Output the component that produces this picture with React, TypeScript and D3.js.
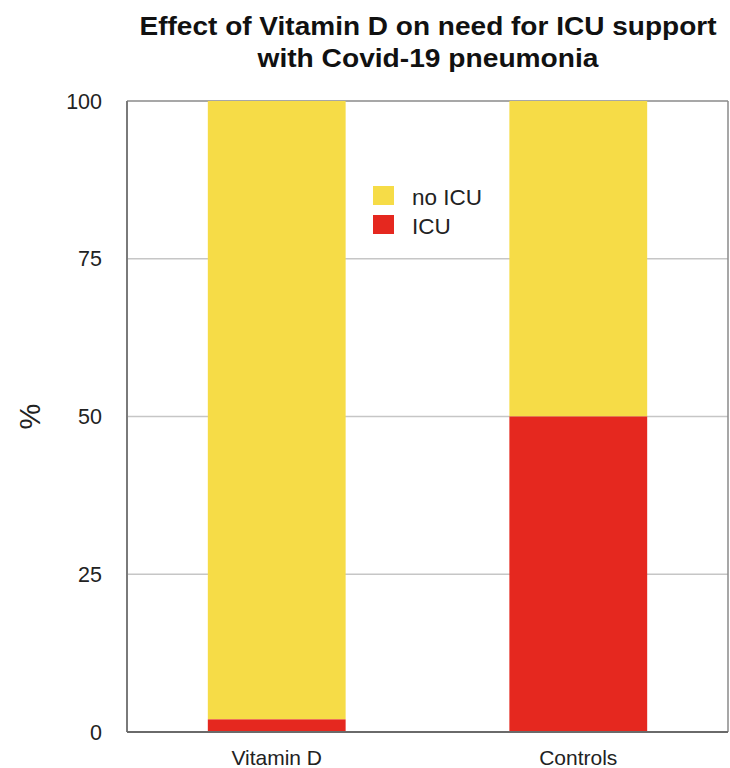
import React from "react";
import * as d3 from "d3";

const categories = ["Vitamin D", "Controls"];
const icuValues = [2, 50];
const noIcuValues = [98, 50];
const yTicks = [0, 25, 50, 75, 100];
const seriesNames = ["no ICU", "ICU"];
const seriesColors = ["#F6DC47", "#E5281F"];
const titleLines = ["Effect of Vitamin D on need for ICU support", "with Covid-19 pneumonia"];
const titleWidths = [577, 341];

export default function App() {
  const W = 730, H = 768;
  const left = 127, right = 728, top = 101, bottom = 732;
  const x = d3.scaleBand<string>().domain(categories).range([left, right]).paddingInner(0.543).paddingOuter(0.268);
  const y = d3.scaleLinear().domain([0, 100]).range([bottom, top]);
  const font = "'Liberation Sans', Arial, Helvetica, sans-serif";
  const stacked = categories.map((c, i) => ({ c, icu: icuValues[i], no: noIcuValues[i] }));
  const cx = 428;
  return (
    <svg width={W} height={H} style={{ position: "absolute", left: 0, top: 0, background: "#fff" }} fontFamily={font}>
      {titleLines.map((t, i) => (
        <text key={i} x={cx} y={35 + i * 32} textAnchor="middle" fontSize={26} fontWeight="bold" fill="#111"
          textLength={titleWidths[i]} lengthAdjust="spacingAndGlyphs">{t}</text>
      ))}
      {yTicks.filter(t => t > 0 && t < 100).map(t => (
        <line key={t} x1={left} x2={right} y1={y(t)} y2={y(t)} stroke="#c6c6c6" strokeWidth={1.5} />
      ))}
      <line x1={left} x2={right} y1={top} y2={top} stroke="#8a8a8a" strokeWidth={1.5} />
      <line x1={right} x2={right} y1={top} y2={bottom} stroke="#8a8a8a" strokeWidth={1.5} />
      {stacked.map(d => (
        <g key={d.c}>
          <rect x={x(d.c)} width={x.bandwidth()} y={y(d.icu + d.no)} height={y(d.icu) - y(d.icu + d.no)} fill={seriesColors[0]} />
          <rect x={x(d.c)} width={x.bandwidth()} y={y(d.icu)} height={y(0) - y(d.icu)} fill={seriesColors[1]} />
        </g>
      ))}
      <line x1={left} x2={left} y1={top} y2={bottom} stroke="#7a7a7a" strokeWidth={2} />
      <line x1={left} x2={right} y1={bottom} y2={bottom} stroke="#6a6a6a" strokeWidth={2} />
      {yTicks.map(t => (
        <text key={t} x={102} y={y(t)} dy="0.36em" textAnchor="end" fontSize={21.5} fill="#222">{t}</text>
      ))}
      <text transform={`translate(40, ${(top + bottom) / 2}) rotate(-90)`} textAnchor="middle" fontSize={29} fill="#222">%</text>
      {categories.map(c => (
        <text key={c} x={(x(c) as number) + x.bandwidth() / 2} y={765} textAnchor="middle" fontSize={21} fill="#222">{c}</text>
      ))}
      {seriesNames.map((s, i) => (
        <g key={s}>
          <rect x={373} y={186 + i * 29} width={21} height={19} fill={seriesColors[i]} />
          <text x={412} y={205 + i * 29} fontSize={22.5} fill="#222">{s}</text>
        </g>
      ))}
    </svg>
  );
}
